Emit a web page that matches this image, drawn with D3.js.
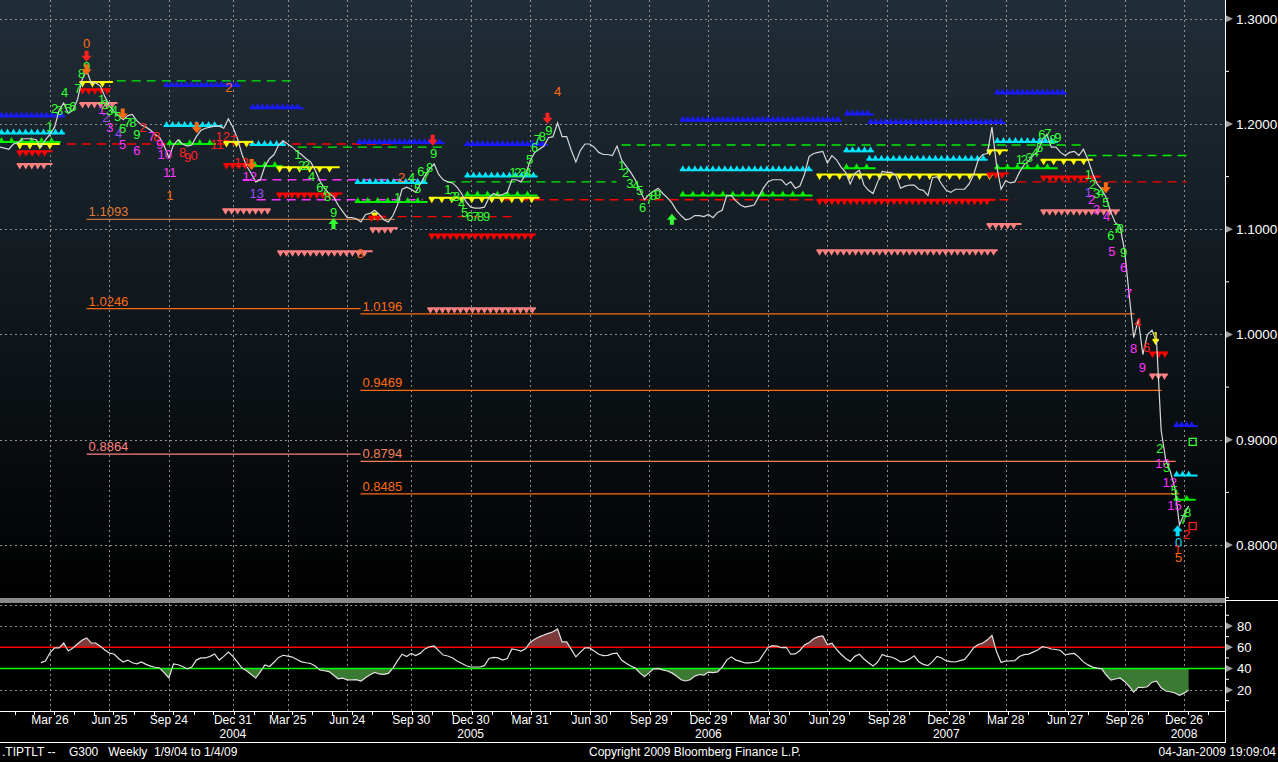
<!DOCTYPE html>
<html><head><meta charset="utf-8">
<script src="https://cdn.jsdelivr.net/npm/d3@7"></script>
<style>
body{margin:0;background:#000;overflow:hidden}
svg{display:block}
text{font-family:"Liberation Sans",Arial,sans-serif}
</style></head>
<body><svg id="c" width="1278" height="762"></svg>
<script>
// ---------------- DATA ----------------
const startDate = "2004-01-09";           // first weekly bar (week 0)
const priceValues = [
1.178,1.177,1.176,1.181,1.182,1.186,1.186,1.186,1.185,1.178,
1.185,1.190,1.197,1.213,1.220,1.210,1.213,1.223,1.242,1.251,
1.239,1.239,1.236,1.226,1.217,1.212,1.208,1.204,1.208,1.209,
1.203,1.199,1.197,1.194,1.190,1.187,1.179,1.168,1.180,1.185,
1.181,1.179,1.180,1.188,1.194,1.196,1.197,1.198,1.198,1.196,
1.205,1.197,1.186,1.171,1.160,1.153,1.145,1.147,1.160,1.167,
1.171,1.180,1.184,1.181,1.178,1.174,1.171,1.167,1.164,1.156,
1.146,1.139,1.134,1.131,1.123,1.117,1.111,1.111,1.110,1.107,
1.114,1.115,1.118,1.114,1.109,1.107,1.113,1.123,1.138,1.140,
1.138,1.135,1.143,1.151,1.157,1.162,1.152,1.147,1.145,1.144,
1.140,1.134,1.126,1.121,1.120,1.120,1.121,1.130,1.134,1.132,
1.133,1.135,1.147,1.147,1.145,1.152,1.165,1.173,1.176,1.179,
1.187,1.188,1.201,1.188,1.188,1.175,1.164,1.175,1.181,1.181,
1.178,1.173,1.171,1.171,1.170,1.179,1.166,1.160,1.154,1.147,
1.137,1.128,1.133,1.136,1.139,1.134,1.130,1.125,1.118,1.113,
1.109,1.110,1.113,1.113,1.112,1.114,1.111,1.116,1.118,1.132,
1.132,1.127,1.123,1.121,1.122,1.123,1.131,1.139,1.145,1.147,
1.147,1.147,1.142,1.145,1.139,1.141,1.152,1.169,1.172,1.173,
1.174,1.163,1.170,1.166,1.159,1.154,1.143,1.153,1.156,1.142,
1.137,1.134,1.145,1.155,1.154,1.154,1.151,1.139,1.141,1.142,
1.142,1.138,1.137,1.132,1.149,1.150,1.143,1.137,1.135,1.138,
1.138,1.138,1.143,1.152,1.166,1.171,1.172,1.197,1.161,1.138,
1.146,1.144,1.145,1.154,1.161,1.165,1.170,1.174,1.185,1.190,
1.178,1.178,1.173,1.170,1.173,1.174,1.170,1.176,1.166,1.153,
1.143,1.138,1.130,1.116,1.106,1.103,1.080,1.038,0.997,1.014,
0.981,1.000,1.004,0.993,0.909,0.881,0.870,0.854,0.819,0.829,
0.837];
const rsiFirstWeek = 9;
const rsiValues = [
45.6,47.2,54.7,59.4,59.4,64,56.5,59.4,63,66.5,
68.8,64,64,61,57.5,54.5,53.7,49.5,46.2,48,
45.5,44.5,46.2,44,42.3,41.3,40.6,36,31.2,44.3,
43.6,42,39.7,41.5,48,50,50,51.5,53.7,48,
51.5,55.6,51.5,46,40.5,38,34.5,31.2,37,43.4,
42,46,50.5,52.5,51.7,50.8,48.5,46.3,45.5,44.8,
42.5,38.7,38,37.2,34,30.5,31,29.5,29.5,29.7,
28.4,31.5,34.3,36.5,35,34.6,35.5,40.5,47.5,53.5,
51.3,54.3,52.2,54.5,58.5,60.5,61.2,56.8,52.7,51.8,
50.2,47.2,45,42.7,41.5,41.5,41.5,42.8,49.5,50.5,
50,48,49.5,58.4,57.7,56.5,58.5,64.5,67.5,69.8,
71.5,73,74.5,77.2,65,65,58,51,55.5,59.4,
59.4,56.5,53.4,52.2,52.4,54,54.5,48,45,42.5,
40.5,36,32.5,36,39.8,40,38.8,37.8,36,33,
29.5,28.4,29.5,33,34.5,34,36.8,36.2,37,41.5,
48,51,48,46.8,45.3,45.3,46,47,53.5,59.8,
61.5,61,59.6,60,53.5,53.8,57,62.2,64.4,68,
70,70.6,62.5,63.8,58,53.5,49.5,46.8,51.5,53.5,
49,45.5,42.5,46,53.2,51.5,50.9,49,46.3,46.8,
49,52,46.5,44,42.8,46.5,51.5,50,47.2,46.6,
46.2,47.5,48.6,53.5,59.6,62.6,64,67,71.2,56,
45.8,47.1,47.2,47.4,51.4,53.1,53.6,55.5,57.5,60.5,
59.8,58.4,57.9,57,52.8,53.8,54.2,50.8,46.3,43.5,
41.4,40.5,39.8,34,29.3,30.3,31.2,28,23.5,18,
22.5,22.3,23,27.3,28.3,22,19,18.3,17.2,15,
17,20];
const priceTicks = [1.3,1.2,1.1,1.0,0.9,0.8];
const priceMinorTicks = [1.25,1.15,1.05,0.95,0.85,0.75];
const rsiTicks = [80,60,40,20];
const rsiMinorTicks = [90,70,50,30,10];
const rsiUpper = 60, rsiLower = 40;
const xTickDates = ["2004-03-26","2004-06-25","2004-09-24","2004-12-31","2005-03-25","2005-06-24",
  "2005-09-30","2005-12-30","2006-03-31","2006-06-30","2006-09-29","2006-12-29","2007-03-30",
  "2007-06-29","2007-09-28","2007-12-28","2008-03-28","2008-06-27","2008-09-26","2008-12-26"];
const yearLabels = ["2004","2005","2006","2007","2008"];
const yearLabelDates = ["2004-12-31","2005-12-30","2006-12-29","2007-12-28","2008-12-26"];
// level lines: [fromWeek, toWeek, value, label, colourKey]
const levelLines = [
  [19.0,86.4,1.1093,"1.1093","OL"],
  [19.0,78.9,1.0246,"1.0246","O"],
  [78.9,248.2,1.0196,"1.0196","O"],
  [78.9,254.1,0.9469,"0.9469","O"],
  [19.0,78.9,0.8864,"0.8864","S"],
  [78.9,257.2,0.8794,"0.8794","OP"],
  [78.9,258.0,0.8485,"0.8485","O"]];
// dashed lines: [fromWeek, toWeek, value, colourKey]
const dashedLines = [
  [25.6,64.9,1.241,"L"],[65.2,98.0,1.178,"L"],[97.7,134.9,1.145,"L"],[136.0,237.7,1.180,"L"],[237.9,259.8,1.170,"L"],
  [14.7,85.9,1.181,"Rd"],[87.0,112.0,1.112,"Rd"],[110.4,222.0,1.128,"Rd"],[222.6,259.6,1.145,"Rd"],
  [53.1,92.5,1.147,"M"],[56.2,92.5,1.128,"M"]];
// triangle bands: [fromWeek, toWeek, value, colourKey, direction]
const bands = [
  [0.4,13.6,1.207,"B","up"],[0.4,13.6,1.191,"Cy","up"],[0.4,12.7,1.183,"L","up"],
  [4.4,12.5,1.181,"Yl","down"],[4.4,10.9,1.174,"Rd","down"],[4.4,10.9,1.162,"S","down"],
  [18.1,24.1,1.240,"Yl","down"],[18.1,23.6,1.233,"Rd","down"],[18.1,25.1,1.220,"S","down"],
  [36.5,52.0,1.236,"B","up"],[36.5,48.1,1.198,"Cy","up"],[37.2,46.6,1.181,"L","up"],
  [55.3,65.8,1.215,"B","up"],[55.3,61.9,1.180,"Cy","up"],
  [49.6,54.7,1.183,"Yl","down"],[49.6,54.7,1.162,"Rd","down"],[49.4,58.6,1.119,"S","down"],
  [55.8,61.2,1.160,"L","up"],[61.2,73.7,1.159,"Yl","down"],[61.2,74.3,1.134,"Rd","down"],[61.4,80.9,1.079,"S","down"],
  [78.7,96.7,1.182,"B","up"],[78.3,92.9,1.144,"Cy","up"],[78.3,92.9,1.126,"L","up"],
  [82.0,82.0,1.115,"Yl","down"],[81.3,83.8,1.112,"Rd","down"],[81.6,86.4,1.101,"S","down"],
  [102.3,119.2,1.180,"B","up"],[102.3,117.0,1.150,"Cy","up"],[102.3,117.0,1.132,"L","up"],
  [94.5,117.4,1.130,"Yl","down"],[94.5,116.6,1.095,"Rd","down"],[94.2,116.6,1.025,"S","down"],
  [149.4,183.5,1.203,"B","up"],[149.4,177.1,1.156,"Cy","up"],[149.4,177.1,1.132,"L","up"],
  [185.4,190.5,1.209,"B","up"],[190.5,219.3,1.201,"B","up"],
  [185.2,190.5,1.174,"Cy","up"],[190.2,215.4,1.166,"Cy","up"],[185.2,190.9,1.158,"L","up"],
  [179.3,216.5,1.152,"Yl","down"],[179.3,217.1,1.128,"Rd","down"],[179.3,217.6,1.080,"S","down"],
  [218.2,232.7,1.229,"B","up"],[218.2,230.7,1.183,"Cy","up"],[218.2,230.7,1.158,"L","up"],
  [216.5,219.8,1.175,"Yl","down"],[216.5,220.0,1.153,"Rd","down"],[216.5,222.8,1.105,"S","down"],
  [228.3,238.4,1.166,"Yl","down"],[228.3,240.1,1.150,"Rd","down"],[228.3,244.3,1.118,"S","down"],
  [252.8,252.8,0.995,"Yl","down"],[252.1,254.8,0.983,"Rd","down"],[252.1,254.8,0.962,"S","down"],
  [257.4,261.3,0.913,"B","up"],[257.4,261.3,0.866,"Cy","up"],[257.4,260.9,0.843,"L","up"]];
// count labels: [week, value, text, colourKey]
const countLabels = [
  [19.0,1.277,"0","O"],[19.0,1.255,"9","G"],[17.9,1.248,"8","G"],[17.1,1.234,"7","G"],[14.2,1.230,"4","G"],
  [12.0,1.215,"2","G"],[13.1,1.213,"3","G"],[14.9,1.215,"5","G"],[16.0,1.217,"6","G"],[10.9,1.198,"1","G"],
  [22.3,1.223,"1","G"],[23.0,1.219,"2","G"],[22.3,1.214,"1","M"],[23.2,1.206,"2","P"],[24.1,1.197,"3","M"],
  [24.1,1.213,"3","G"],[25.1,1.213,"4","G"],[25.8,1.207,"5","G"],[26.9,1.196,"6","G"],[28.0,1.202,"7","G"],
  [29.1,1.202,"8","G"],[31.3,1.197,"2","R"],[26.0,1.191,"4","P"],[26.9,1.181,"5","M"],[30.0,1.190,"9","G"],
  [30.0,1.175,"6","M"],[33.2,1.188,"7","M"],[34.3,1.188,"8","R"],[35.0,1.181,"9","M"],[36.1,1.171,"10","M"],
  [37.2,1.154,"11","M"],[37.2,1.132,"1","O"],[40.0,1.173,"8","R"],[41.1,1.168,"9","R"],[42.5,1.170,"0","R"],
  [50.1,1.235,"2","O"],[49.6,1.188,"12+","R"],[47.5,1.181,"11","R"],[52.9,1.164,"12","R"],[54.7,1.150,"12","M"],
  [56.2,1.134,"13","P"],[65.2,1.171,"1","G"],[66.0,1.161,"2","G"],[67.1,1.161,"3","G"],[68.2,1.150,"4","G"],
  [70.0,1.140,"6","G"],[71.1,1.137,"7","G"],[71.7,1.131,"8","G"],[73.0,1.116,"9","G"],[78.9,1.077,"3","O"],
  [87.0,1.130,"1","G"],[87.9,1.149,"2","O"],[90.1,1.149,"4","G"],[91.4,1.139,"5","G"],[92.1,1.155,"6","G"],
  [93.2,1.150,"7","G"],[94.0,1.159,"8","G"],[94.9,1.172,"9","G"],[98.0,1.138,"1","G"],[99.1,1.131,"2","G"],
  [99.9,1.131,"3","G"],[101.0,1.125,"4","G"],[101.7,1.116,"5","G"],[102.8,1.112,"6","G"],[104.1,1.112,"7","G"],
  [105.2,1.112,"8","G"],[106.5,1.112,"9","G"],[112.2,1.154,"1","G"],[113.3,1.154,"2","G"],[114.4,1.154,"3","G"],
  [115.5,1.154,"4","G"],[115.9,1.166,"5","G"],[117.0,1.178,"6","G"],[117.6,1.185,"7","G"],[118.7,1.188,"8","G"],
  [120.1,1.194,"9","G"],[122.0,1.231,"4","O"],[136.0,1.161,"1","G"],[136.9,1.154,"2","G"],[137.8,1.144,"3","G"],
  [139.1,1.142,"4","G"],[140.0,1.137,"5","G"],[140.6,1.121,"6","G"],[142.1,1.128,"7","G"],[143.0,1.132,"8","G"],
  [143.9,1.133,"9","G"],[223.0,1.166,"1","G"],[224.1,1.166,"2","G"],[225.2,1.168,"3","G"],[226.5,1.173,"4","G"],
  [227.4,1.178,"5","G"],[227.9,1.190,"6","G"],[229.2,1.191,"7","G"],[230.3,1.185,"8","G"],[231.4,1.187,"9","G"],
  [238.1,1.152,"1","G"],[239.0,1.143,"2","G"],[239.9,1.134,"3","G"],[240.8,1.135,"4","G"],[241.9,1.126,"5","G"],
  [238.1,1.135,"1","P"],[238.8,1.128,"2","M"],[239.9,1.119,"3","M"],[242.1,1.112,"4","M"],[243.0,1.094,"6","G"],
  [244.3,1.101,"7","G"],[245.1,1.101,"8","G"],[243.2,1.079,"5","M"],[245.8,1.078,"9","G"],[245.8,1.064,"6","M"],
  [246.9,1.039,"7","M"],[248.0,0.987,"8","M"],[248.9,1.012,"4","R"],[250.8,0.988,"6","R"],[249.9,0.969,"9","M"],
  [252.8,0.998,"1","Y"],[253.7,0.892,"2","G"],[254.3,0.878,"10","M"],[255.2,0.874,"3","G"],[255.9,0.860,"12","M"],
  [256.9,0.852,"5","G"],[256.9,0.838,"15","M"],[259.8,0.831,"8","G"],[258.9,0.824,"7","G"],[259.6,0.810,"2","R"],
  [257.8,0.803,"0","C"],[257.6,0.796,"1","R"],[257.8,0.788,"5","O"]];
// arrows: [week, value, direction, colourKey]
const arrows = [
  [19.0,1.264,"down","R"],[19.0,1.251,"down","O"],[26.9,1.209,"down","O"],[43.1,1.196,"down","O"],
  [55.1,1.161,"down","O"],[73.0,1.106,"up","G"],[94.7,1.184,"down","R"],[119.8,1.205,"down","R"],
  [147.0,1.110,"up","G"],[241.9,1.139,"down","O"],[257.6,0.814,"up","C"]];
// hollow squares: [week, value, colourKey]
const squares = [[260.9,0.898,"G"],[260.9,0.818,"R"]];

// ---------------- STYLE ----------------
const col = {B:"#1a1aff",Cy:"#00e5ff",L:"#00f000",Yl:"#ffff00",Rd:"#ff0000",S:"#ff8080",
  G:"#33ff33",M:"#ff33ff",P:"#9a4dff",R:"#ff2020",O:"#ff6a10",Y:"#ffff00",C:"#00ddff",
  OL:"#c8783c",OP:"#f58055"};
const triSpacing = {B:5,Cy:6,L:10,Yl:10,Rd:6.2,S:6};

// ---------------- SCALES ----------------
const svg = d3.select("#c");
const PW = 1225, MB = 597;
const t0 = Date.parse(startDate + "T00:00:00Z");
const wk = w => new Date(t0 + w * 7 * 864e5);
const x = d3.scaleUtc().domain([new Date(Date.UTC(2004,0,9,11)), new Date(Date.UTC(2009,1,26,18))]).range([0, PW]);
const y = d3.scaleLinear().domain([0.7506, 1.3178]).range([MB, 0]);
const yR = d3.scaleLinear().domain([0, 100]).range([711.3, 604.6]);
const X = w => x(wk(w));

const defs = svg.append("defs");
const g1 = defs.append("linearGradient").attr("id","bg").attr("x1",0).attr("y1",0).attr("x2",0).attr("y2",1);
g1.append("stop").attr("offset","0").attr("stop-color","#212d37");
g1.append("stop").attr("offset","0.55").attr("stop-color","#0f161b");
g1.append("stop").attr("offset","1").attr("stop-color","#000000");
defs.append("clipPath").attr("id","cm").append("rect").attr("x",0).attr("y",0).attr("width",PW).attr("height",MB);
defs.append("clipPath").attr("id","cUp").append("rect").attr("x",0).attr("y",603).attr("width",PW).attr("height",yR(rsiUpper)-603);
defs.append("clipPath").attr("id","cDn").append("rect").attr("x",0).attr("y",yR(rsiLower)).attr("width",PW).attr("height",711-yR(rsiLower));

svg.append("rect").attr("width",1278).attr("height",762).attr("fill","#000");
svg.append("rect").attr("x",0).attr("y",0).attr("width",PW).attr("height",MB+1).attr("fill","url(#bg)");

const tickDates = xTickDates.map(s => new Date(s + "T00:00:00Z"));
const grid = svg.append("g").attr("stroke","#8f8f8f").attr("stroke-dasharray","2,3").attr("stroke-width",1);
tickDates.forEach(d => {
  const xx = Math.round(x(d)) + 0.5;
  grid.append("line").attr("x1",xx).attr("x2",xx).attr("y1",0).attr("y2",MB);
  grid.append("line").attr("x1",xx).attr("x2",xx).attr("y1",604).attr("y2",711);
});
priceTicks.forEach(v => {
  const yy = Math.round(y(v)) + 0.5;
  grid.append("line").attr("x1",0).attr("x2",PW).attr("y1",yy).attr("y2",yy);
});
[100,80,20].forEach(v => {
  const yy = Math.round(yR(v)) + 0.5;
  grid.append("line").attr("x1",0).attr("x2",PW).attr("y1",yy).attr("y2",yy);
});

// ---------------- MAIN PANEL ----------------
const main = svg.append("g").attr("clip-path","url(#cm)");

levelLines.forEach(([a,b,v,lab,c]) => {
  main.append("line").attr("x1",X(a)).attr("x2",X(b)).attr("y1",y(v)).attr("y2",y(v))
    .attr("stroke",col[c]).attr("stroke-width",1.3);
  main.append("text").attr("x",X(a)+2).attr("y",y(v)-3).attr("fill",col[c]==col.OL?"#e07a30":col[c])
    .attr("font-size",13).text(lab);
});

dashedLines.forEach(([a,b,v,c]) => {
  main.append("line").attr("x1",X(a)).attr("x2",X(b)).attr("y1",y(v)).attr("y2",y(v))
    .attr("stroke",col[c]).attr("stroke-width",1.4).attr("stroke-dasharray","9,6");
});

bands.forEach(([a,b,v,c,dir]) => {
  const x1 = X(a), x2 = X(b), yy = y(v), s = triSpacing[c];
  main.append("line").attr("x1",x1-3).attr("x2",x2+3).attr("y1",yy).attr("y2",yy)
    .attr("stroke",col[c]).attr("stroke-width",2);
  let p = "";
  for (let xx = x1; xx <= x2 + 0.1; xx += s) {
    if (dir === "up") p += `M${xx-2.8},${yy}L${xx+2.8},${yy}L${xx},${yy-5}Z`;
    else p += `M${xx-3.2},${yy}L${xx+3.2},${yy}L${xx},${yy+5.5}Z`;
  }
  main.append("path").attr("d",p).attr("fill",col[c]);
});

const priceData = priceValues.map((v,i) => ({d: wk(i), v}));
main.append("path").datum(priceData)
  .attr("d", d3.line().x(d => x(d.d)).y(d => y(d.v)))
  .attr("fill","none").attr("stroke","#d8d8d8").attr("stroke-width",1.2);

countLabels.forEach(([w,v,t,c]) => {
  main.append("text").attr("x",X(w)).attr("y",y(v)).attr("dy","0.36em")
    .attr("text-anchor","middle").attr("fill",col[c]).attr("font-size",13).text(t);
});

arrows.forEach(([w,v,dir,c]) => {
  const cx = X(w), cy = y(v);
  const p = dir === "down"
    ? `M${cx-2},${cy-6}L${cx+2},${cy-6}L${cx+2},${cy-1}L${cx+5},${cy-1}L${cx},${cy+5}L${cx-5},${cy-1}L${cx-2},${cy-1}Z`
    : `M${cx-2},${cy+6}L${cx+2},${cy+6}L${cx+2},${cy+1}L${cx+5},${cy+1}L${cx},${cy-5}L${cx-5},${cy+1}L${cx-2},${cy+1}Z`;
  main.append("path").attr("d",p).attr("fill",col[c]);
});
squares.forEach(([w,v,c]) => {
  main.append("rect").attr("x",X(w)-3.5).attr("y",y(v)-3.5).attr("width",7).attr("height",7)
    .attr("fill","none").attr("stroke",col[c]).attr("stroke-width",1.3);
});

// separator
svg.append("rect").attr("x",0).attr("y",598).attr("width",PW).attr("height",5).attr("fill","#8a8a8a");
svg.append("line").attr("x1",PW).attr("x2",1278).attr("y1",600.5).attr("y2",600.5).attr("stroke","#fff");

// ---------------- RSI PANEL ----------------
const rsiData = rsiValues.map((v,i) => ({d: wk(i + rsiFirstWeek), v}));
const areaUp = d3.area().x(d => x(d.d)).y0(yR(rsiUpper)).y1(d => yR(d.v));
const areaDn = d3.area().x(d => x(d.d)).y0(yR(rsiLower)).y1(d => yR(d.v));
svg.append("path").datum(rsiData).attr("d",areaUp).attr("fill","#7e3a3a").attr("clip-path","url(#cUp)");
svg.append("path").datum(rsiData).attr("d",areaDn).attr("fill","#3b7a33").attr("clip-path","url(#cDn)");
svg.append("line").attr("x1",0).attr("x2",PW).attr("y1",yR(rsiUpper)).attr("y2",yR(rsiUpper)).attr("stroke","#ff0000").attr("stroke-width",1.5);
svg.append("line").attr("x1",0).attr("x2",PW).attr("y1",yR(rsiLower)).attr("y2",yR(rsiLower)).attr("stroke","#00ff00").attr("stroke-width",1.5);
svg.append("path").datum(rsiData).attr("d", d3.line().x(d => x(d.d)).y(d => yR(d.v)))
  .attr("fill","none").attr("stroke","#e2e2e2").attr("stroke-width",1.2);

// ---------------- AXES ----------------
const ax = svg.append("g");
ax.append("line").attr("x1",PW+0.5).attr("x2",PW+0.5).attr("y1",0).attr("y2",742).attr("stroke","#fff");
ax.append("line").attr("x1",0).attr("x2",PW+1).attr("y1",711.5).attr("y2",711.5).attr("stroke","#fff");
ax.append("line").attr("x1",0).attr("x2",PW+1).attr("y1",742.5).attr("y2",742.5).attr("stroke","#fff");

const arrowR = yy => `M${PW+1},${yy-3.5}L${PW+8},${yy}L${PW+1},${yy+3.5}Z`;
priceTicks.forEach(v => {
  const yy = y(v);
  ax.append("path").attr("d",arrowR(yy)).attr("fill","#a0a0a0");
  ax.append("text").attr("x",1236).attr("y",yy).attr("dy","0.36em").attr("fill","#fff")
    .attr("font-size",13.5).text(d3.format(".4f")(v));
});
priceMinorTicks.forEach(v => {
  ax.append("line").attr("x1",PW).attr("x2",PW+4).attr("y1",y(v)).attr("y2",y(v)).attr("stroke","#fff");
});
rsiTicks.forEach(v => {
  const yy = yR(v);
  ax.append("path").attr("d",arrowR(yy)).attr("fill","#a0a0a0");
  ax.append("text").attr("x",1237).attr("y",yy).attr("dy","0.36em").attr("fill","#fff")
    .attr("font-size",13).text(v);
});
rsiMinorTicks.forEach(v => {
  ax.append("line").attr("x1",PW).attr("x2",PW+4).attr("y1",yR(v)).attr("y2",yR(v)).attr("stroke","#fff");
});

d3.utcMonth.range(x.domain()[0], x.domain()[1]).forEach(d => {
  const xx = Math.round(x(d)) + 0.5;
  ax.append("line").attr("x1",xx).attr("x2",xx).attr("y1",712).attr("y2",715).attr("stroke","#fff");
});
const fmt = d3.utcFormat("%b %d");
tickDates.forEach(d => {
  ax.append("text").attr("x",x(d)).attr("y",724).attr("text-anchor","middle").attr("fill","#fff")
    .attr("font-size",12).text(fmt(d));
});
yearLabels.forEach((t,i) => {
  ax.append("text").attr("x",x(new Date(yearLabelDates[i] + "T00:00:00Z"))).attr("y",738)
    .attr("text-anchor","middle").attr("fill","#fff").attr("font-size",12).text(t);
});

// footer
const ft = svg.append("g").attr("fill","#fff").attr("font-size",12);
ft.append("text").attr("x",2).attr("y",756).style("white-space","pre").text(".TIPTLT --    G300   Weekly  1/9/04 to 1/4/09");
ft.append("text").attr("x",695).attr("y",756).attr("text-anchor","middle").text("Copyright 2009 Bloomberg Finance L.P.");
ft.append("text").attr("x",1276).attr("y",756).attr("text-anchor","end").text("04-Jan-2009 19:09:04");
</script></body></html>
